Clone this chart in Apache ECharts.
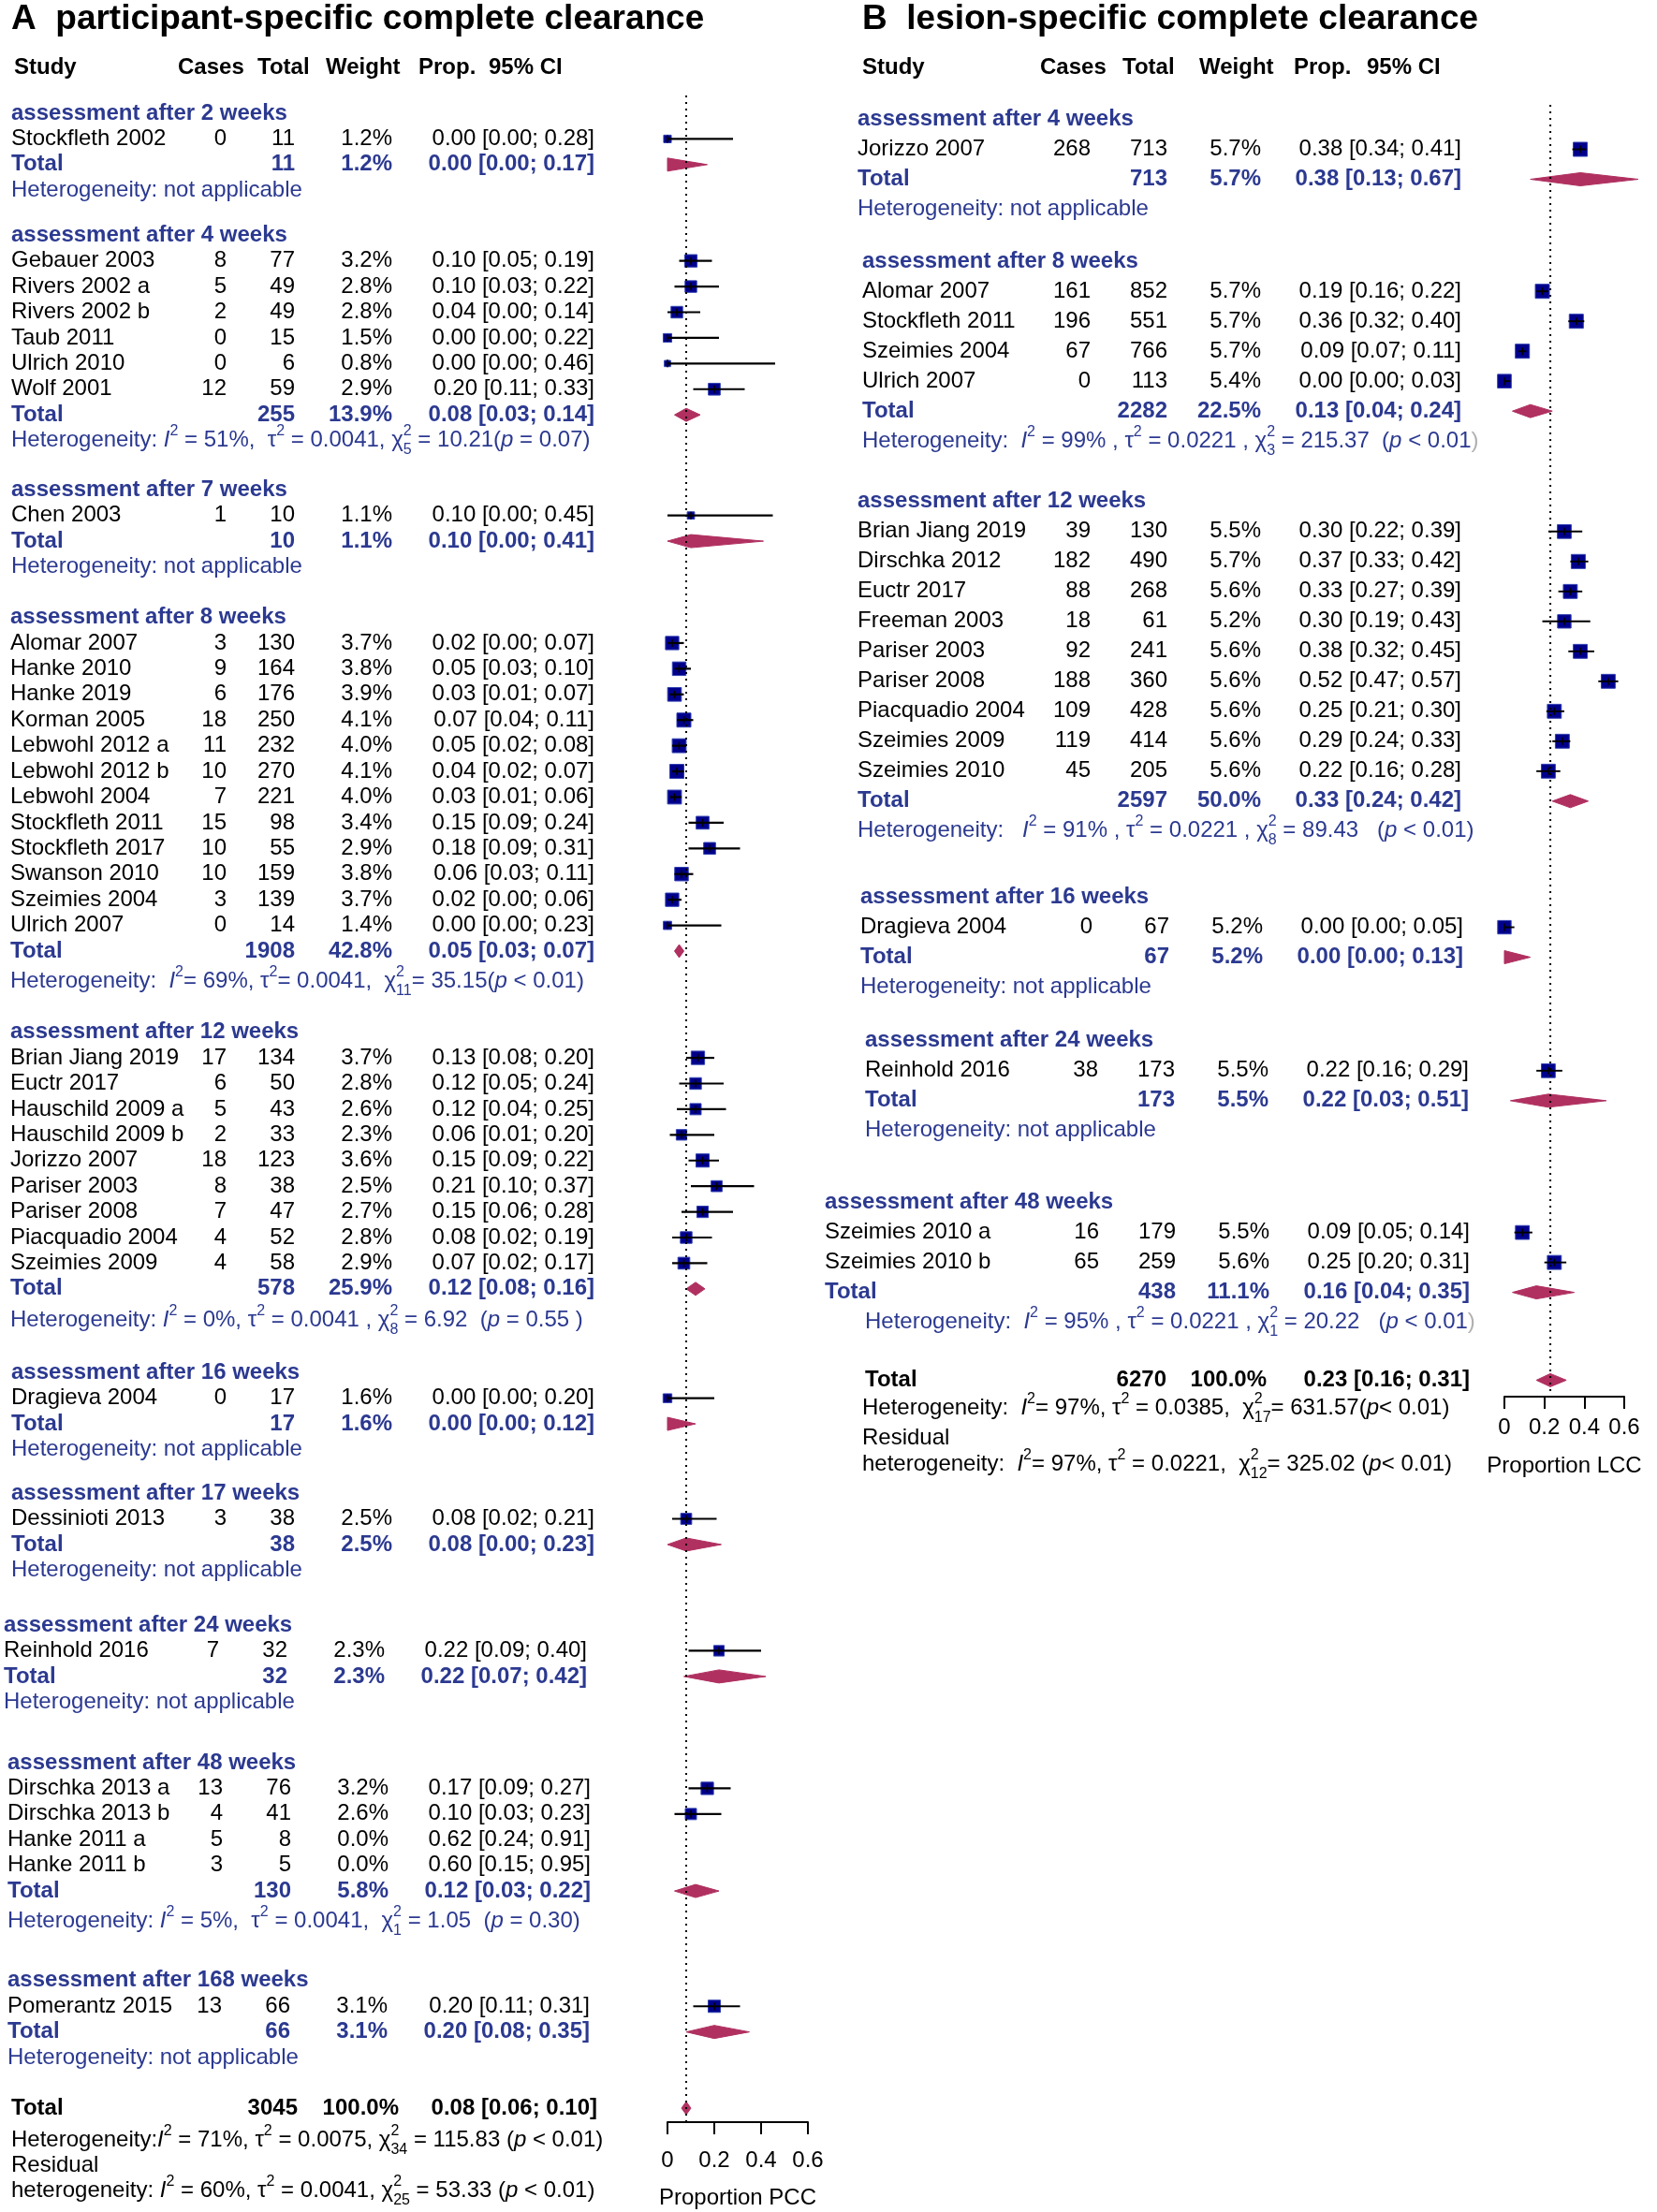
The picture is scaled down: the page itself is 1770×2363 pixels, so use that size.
<!DOCTYPE html>
<html><head><meta charset="utf-8">
<script src="https://cdn.jsdelivr.net/npm/echarts@6/dist/echarts.min.js"></script>
<style>html,body{margin:0;padding:0;background:#fff}#c{width:1770px;height:2363px}</style>
</head><body><div id="c"></div>
<script>
// ================= DATA =================
const headerLabels = ['Study', 'Cases', 'Total', 'Weight', 'Prop.', '95% CI'];
const titleA = 'A  participant-specific complete clearance';
const titleB = 'B  lesion-specific complete clearance';
const axisNameA = 'Proportion PCC';
const axisNameB = 'Proportion LCC';
const xTicks = [0, 0.2, 0.4, 0.6];

// ---- Panel A ----
const A_groupLabels = ['assessment after 2 weeks','assessment after 4 weeks','assessment after 7 weeks','assessment after 8 weeks','assessment after 12 weeks','assessment after 16 weeks','assessment after 17 weeks','assessment after 24 weeks','assessment after 48 weeks','assessment after 168 weeks'];
const A_study = ['Stockfleth 2002','Gebauer 2003','Rivers 2002 a','Rivers 2002 b','Taub 2011','Ulrich 2010','Wolf 2001','Chen 2003','Alomar 2007','Hanke 2010','Hanke 2019','Korman 2005','Lebwohl 2012 a','Lebwohl 2012 b','Lebwohl 2004','Stockfleth 2011','Stockfleth 2017','Swanson 2010','Szeimies 2004','Ulrich 2007','Brian Jiang 2019','Euctr 2017','Hauschild 2009 a','Hauschild 2009 b','Jorizzo 2007','Pariser 2003','Pariser 2008','Piacquadio 2004','Szeimies 2009','Dragieva 2004','Dessinioti 2013','Reinhold 2016','Dirschka 2013 a','Dirschka 2013 b','Hanke 2011 a','Hanke 2011 b','Pomerantz 2015'];
const A_groupOf = [0, 1,1,1,1,1,1, 2, 3,3,3,3,3,3,3,3,3,3,3,3, 4,4,4,4,4,4,4,4,4, 5, 6, 7, 8,8,8,8, 9];
const A_cases = [0, 8,5,2,0,0,12, 1, 3,9,6,18,11,10,7,15,10,10,3,0, 17,6,5,2,18,8,7,4,4, 0, 3, 7, 13,4,5,3, 13];
const A_total = [11, 77,49,49,15,6,59, 10, 130,164,176,250,232,270,221,98,55,159,139,14, 134,50,43,33,123,38,47,52,58, 17, 38, 32, 76,41,8,5, 66];
const A_weight = [1.2, 3.2,2.8,2.8,1.5,0.8,2.9, 1.1, 3.7,3.8,3.9,4.1,4.0,4.1,4.0,3.4,2.9,3.8,3.7,1.4, 3.7,2.8,2.6,2.3,3.6,2.5,2.7,2.8,2.9, 1.6, 2.5, 2.3, 3.2,2.6,0.0,0.0, 3.1];
const A_prop = [0.00, 0.10,0.10,0.04,0.00,0.00,0.20, 0.10, 0.02,0.05,0.03,0.07,0.05,0.04,0.03,0.15,0.18,0.06,0.02,0.00, 0.13,0.12,0.12,0.06,0.15,0.21,0.15,0.08,0.07, 0.00, 0.08, 0.22, 0.17,0.10,0.62,0.60, 0.20];
const A_lower = [0.00, 0.05,0.03,0.00,0.00,0.00,0.11, 0.00, 0.00,0.03,0.01,0.04,0.02,0.02,0.01,0.09,0.09,0.03,0.00,0.00, 0.08,0.05,0.04,0.01,0.09,0.10,0.06,0.02,0.02, 0.00, 0.02, 0.09, 0.09,0.03,0.24,0.15, 0.11];
const A_upper = [0.28, 0.19,0.22,0.14,0.22,0.46,0.33, 0.45, 0.07,0.10,0.07,0.11,0.08,0.07,0.06,0.24,0.31,0.11,0.06,0.23, 0.20,0.24,0.25,0.20,0.22,0.37,0.28,0.19,0.17, 0.20, 0.21, 0.40, 0.27,0.23,0.91,0.95, 0.31];
const A_groupTotal = [11,255,10,1908,578,17,38,32,130,66];
const A_groupWeight = [1.2,13.9,1.1,42.8,25.9,1.6,2.5,2.3,5.8,3.1];
const A_groupProp = [0.00,0.08,0.10,0.05,0.12,0.00,0.08,0.22,0.12,0.20];
const A_groupLower = [0.00,0.03,0.00,0.03,0.08,0.00,0.00,0.07,0.03,0.08];
const A_groupUpper = [0.17,0.14,0.41,0.07,0.16,0.12,0.23,0.42,0.22,0.35];
const A_groupHet = [
  'Heterogeneity: not applicable',
  'Heterogeneity: {i|I}{sup|2} = 51%,  τ{sup|2} = 0.0041, χ{z|2}{sub|5} = 10.21({i|p} = 0.07)',
  'Heterogeneity: not applicable',
  'Heterogeneity:  {i|I}{sup|2}= 69%, τ{sup|2}= 0.0041,  χ{z|2}{sub|11}= 35.15({i|p} < 0.01)',
  'Heterogeneity: {i|I}{sup|2} = 0%, τ{sup|2} = 0.0041 , χ{z|2}{sub|8} = 6.92  ({i|p} = 0.55 )',
  'Heterogeneity: not applicable',
  'Heterogeneity: not applicable',
  'Heterogeneity: not applicable',
  'Heterogeneity: {i|I}{sup|2} = 5%,  τ{sup|2} = 0.0041,  χ{z|2}{sub|1} = 1.05  ({i|p} = 0.30)',
  'Heterogeneity: not applicable'
];
const A_overall = [3045, 100.0, 0.08, 0.06, 0.10]; // total, weight, prop, lower, upper
const A_overallHet = [
  'Heterogeneity:{i|I}{sup|2} = 71%, τ{sup|2} = 0.0075, χ{z|2}{sub|34} = 115.83 ({i|p} < 0.01)',
  'Residual',
  'heterogeneity: {i|I}{sup|2} = 60%, τ{sup|2} = 0.0041, χ{z|2}{sub|25} = 53.33 ({i|p} < 0.01)'
];

// ---- Panel B ----
const B_groupLabels = ['assessment after 4 weeks','assessment after 8 weeks','assessment after 12 weeks','assessment after 16 weeks','assessment after 24 weeks','assessment after 48 weeks'];
const B_study = ['Jorizzo 2007','Alomar 2007','Stockfleth 2011','Szeimies 2004','Ulrich 2007','Brian Jiang 2019','Dirschka 2012','Euctr 2017','Freeman 2003','Pariser 2003','Pariser 2008','Piacquadio 2004','Szeimies 2009','Szeimies 2010','Dragieva 2004','Reinhold 2016','Szeimies 2010 a','Szeimies 2010 b'];
const B_groupOf = [0, 1,1,1,1, 2,2,2,2,2,2,2,2,2, 3, 4, 5,5];
const B_cases = [268, 161,196,67,0, 39,182,88,18,92,188,109,119,45, 0, 38, 16,65];
const B_total = [713, 852,551,766,113, 130,490,268,61,241,360,428,414,205, 67, 173, 179,259];
const B_weight = [5.7, 5.7,5.7,5.7,5.4, 5.5,5.7,5.6,5.2,5.6,5.6,5.6,5.6,5.6, 5.2, 5.5, 5.5,5.6];
const B_prop = [0.38, 0.19,0.36,0.09,0.00, 0.30,0.37,0.33,0.30,0.38,0.52,0.25,0.29,0.22, 0.00, 0.22, 0.09,0.25];
const B_lower = [0.34, 0.16,0.32,0.07,0.00, 0.22,0.33,0.27,0.19,0.32,0.47,0.21,0.24,0.16, 0.00, 0.16, 0.05,0.20];
const B_upper = [0.41, 0.22,0.40,0.11,0.03, 0.39,0.42,0.39,0.43,0.45,0.57,0.30,0.33,0.28, 0.05, 0.29, 0.14,0.31];
const B_groupTotal = [713, 2282, 2597, 67, 173, 438];
const B_groupWeight = [5.7, 22.5, 50.0, 5.2, 5.5, 11.1];
const B_groupProp = [0.38, 0.13, 0.33, 0.00, 0.22, 0.16];
const B_groupLower = [0.13, 0.04, 0.24, 0.00, 0.03, 0.04];
const B_groupUpper = [0.67, 0.24, 0.42, 0.13, 0.51, 0.35];
const B_groupHet = [
  'Heterogeneity: not applicable',
  'Heterogeneity:  {i|I}{sup|2} = 99% , τ{sup|2} = 0.0221 , χ{z|2}{sub|3} = 215.37  ({i|p} < 0.01{g|)}',
  'Heterogeneity:   {i|I}{sup|2} = 91% , τ{sup|2} = 0.0221 , χ{z|2}{sub|8} = 89.43   ({i|p} < 0.01)',
  'Heterogeneity: not applicable',
  'Heterogeneity: not applicable',
  'Heterogeneity:  {i|I}{sup|2} = 95% , τ{sup|2} = 0.0221 , χ{z|2}{sub|1} = 20.22   ({i|p} < 0.01{g|)}'
];
const B_overall = [6270, 100.0, 0.23, 0.16, 0.31];
const B_overallHet = [
  'Heterogeneity:  {i|I}{sup|2}= 97%, τ{sup|2} = 0.0385,  χ{z|2}{sub|17}= 631.57({i|p}< 0.01)',
  'Residual',
  'heterogeneity:  {i|I}{sup|2}= 97%, τ{sup|2} = 0.0221,  χ{z|2}{sub|12}= 325.02 ({i|p}< 0.01)'
];

// ================= LAYOUT / STYLE =================
const FONT = '"Liberation Sans", Arial, Helvetica, sans-serif';
const BLUE = '#2b3990';
const SQ_FILL = '#00008b', SQ_STROKE = '#2f3fb0', DIAMOND = '#b03060';
const LA = {y0: 121, h: 27.42, gridTop: 102, axisY: 2267, left: 713, width: 150,
  gapAfter: [1.75, 1.92, 1.97, 1.97, 2.03, 1.70, 2.14, 2.36, 2.30, 1.97],
  hetExtra: [0, 0, 0, 0.19, 0.23, 0, 0, 0, 0.19, 0],
  overallHetOffsets: [1.26, 2.25, 3.23],
  nameX: 12, casesR: 242, totalR: 315, weightR: 419, propR: 635,
  labelShift: [0,0,0,-1,-1,0,0,-8,-4,-4], hetShift: [0,0,0,-1,-1,0,0,-8,-4,-4], valueShift: [0,0,0,0,0,0,0,-8,-4,-5],
  overallX: 12, overallHetX: 12, overallCols: [318, 426, 638],
  maxSide: 15, wmax: 4.1, hh: 7, ciW: 2.2,
  margin: 29, nameGap: 69, headX: [15,190,275,348,447,522], titleX: 12};
const LB = {y0: 127.5, h: 32.0, gridTop: 112, axisY: 1492, left: 1607, width: 128,
  gapAfter: [1.74, 2.02, 2.21, 1.79, 2.40, 1.93],
  hetExtra: [0, 0, 0, 0, 0, 0],
  overallHetOffsets: [0.94, 1.93, 2.82],
  nameX: 916, casesR: 1165, totalR: 1247, weightR: 1347, propR: 1561,
  labelShift: [0,5,0,3,8,-35], hetShift: [0,5,0,3,8,8], valueShift: [0,0,0,2,8,9],
  overallX: 924, overallHetX: 921, overallCols: [1246, 1353, 1570],
  maxSide: 15, wmax: 5.7, hh: 7, ciW: 1.9,
  margin: 21, nameGap: 62, headX: [921,1111,1199,1281,1382,1460], titleX: 921};

function panel(p, L) {
  const rows = []; let pos = 0;
  p.groupLabels.forEach((lab, g) => {
    rows.push({r: pos, kind: 'header', g}); pos += 1;
    p.study.forEach((s, i) => { if (p.groupOf[i] === g) { rows.push({r: pos, kind: 'study', g, i}); pos += 1; } });
    rows.push({r: pos, kind: 'total', g}); pos += 1 + L.hetExtra[g];
    rows.push({r: pos, kind: 'het', g}); pos += L.gapAfter[g];
  });
  const tot = pos;
  rows.push({r: tot, kind: 'overall'});
  p.overallHet.forEach((t, k) => rows.push({r: tot + L.overallHetOffsets[k], kind: 'ohet', text: t}));
  p.rows = rows;
  return p;
}
const PA = panel({groupLabels: A_groupLabels, study: A_study, groupOf: A_groupOf, cases: A_cases, total: A_total, weight: A_weight, prop: A_prop, lower: A_lower, upper: A_upper, gTotal: A_groupTotal, gWeight: A_groupWeight, gProp: A_groupProp, gLower: A_groupLower, gUpper: A_groupUpper, gHet: A_groupHet, overall: A_overall, overallHet: A_overallHet}, LA);
const PB = panel({groupLabels: B_groupLabels, study: B_study, groupOf: B_groupOf, cases: B_cases, total: B_total, weight: B_weight, prop: B_prop, lower: B_lower, upper: B_upper, gTotal: B_groupTotal, gWeight: B_groupWeight, gProp: B_groupProp, gLower: B_groupLower, gUpper: B_groupUpper, gHet: B_groupHet, overall: B_overall, overallHet: B_overallHet}, LB);

const fmtP = (p, l, u) => p.toFixed(2) + ' [' + l.toFixed(2) + '; ' + u.toFixed(2) + ']';
const fmtW = w => w.toFixed(1) + '%';

function richFor(color) {
  const b = {fontFamily: FONT, fill: color};
  return {
    i: Object.assign({}, b, {fontSize: 24, fontStyle: 'italic', lineHeight: 36}),
    sup: Object.assign({}, b, {fontSize: 16, lineHeight: 16, verticalAlign: 'top'}),
    z: Object.assign({}, b, {fontSize: 16, lineHeight: 16, verticalAlign: 'top', width: 0}),
    sub: Object.assign({}, b, {fontSize: 16, lineHeight: 16, verticalAlign: 'bottom'}),
    g: Object.assign({}, b, {fontSize: 24, lineHeight: 36, fill: '#b0b0b0'})
  };
}
function T(x, y, text, o) {
  o = o || {};
  const al = o.align || 'left';
  const st = {text: String(text), fontFamily: FONT, fontSize: o.size || 24, fontWeight: o.bold ? 'bold' : 'normal',
    fill: o.color || '#000', align: al, textAlign: al, verticalAlign: 'middle', textVerticalAlign: 'middle'};
  if (o.rich) { st.rich = o.rich; st.lineHeight = 36; }
  return {type: 'text', x: x, y: y, silent: true, style: st};
}

function textRender(P, L) {
  return function (params, api) {
    const row = P.rows[api.value(2)];
    const y = api.coord([0, api.value(1)])[1];
    const ch = [];
    if (row.kind === 'header') {
      ch.push(T(L.nameX + L.labelShift[row.g], y, P.groupLabels[row.g], {bold: true, color: BLUE}));
    } else if (row.kind === 'study') {
      const i = row.i, dx = L.valueShift[row.g];
      ch.push(T(L.nameX + L.labelShift[row.g], y, P.study[i]));
      ch.push(T(L.casesR + dx, y, P.cases[i], {align: 'right'}));
      ch.push(T(L.totalR + dx, y, P.total[i], {align: 'right'}));
      ch.push(T(L.weightR + dx, y, fmtW(P.weight[i]), {align: 'right'}));
      ch.push(T(L.propR + dx, y, fmtP(P.prop[i], P.lower[i], P.upper[i]), {align: 'right'}));
    } else if (row.kind === 'total') {
      const g = row.g, dx = L.valueShift[g], o = {bold: true, color: BLUE, align: 'right'};
      ch.push(T(L.nameX + L.labelShift[g], y, 'Total', {bold: true, color: BLUE}));
      ch.push(T(L.totalR + dx, y, P.gTotal[g], o));
      ch.push(T(L.weightR + dx, y, fmtW(P.gWeight[g]), o));
      ch.push(T(L.propR + dx, y, fmtP(P.gProp[g], P.gLower[g], P.gUpper[g]), o));
    } else if (row.kind === 'het') {
      ch.push(T(L.nameX + L.hetShift[row.g], y, P.gHet[row.g], {color: BLUE, rich: richFor(BLUE)}));
    } else if (row.kind === 'overall') {
      const v = P.overall, o = {bold: true, align: 'right'}, c = L.overallCols;
      ch.push(T(L.overallX, y, 'Total', {bold: true}));
      ch.push(T(c[0], y, v[0], o));
      ch.push(T(c[1], y, fmtW(v[1]), o));
      ch.push(T(c[2], y, fmtP(v[2], v[3], v[4]), o));
    } else if (row.kind === 'ohet') {
      ch.push(T(L.overallHetX, y, row.text, {rich: richFor('#000')}));
    }
    return {type: 'group', children: ch};
  };
}

function markData(P) {
  const d = [];
  P.rows.forEach(row => {
    if (row.kind === 'study') {
      const i = row.i;
      if (P.weight[i] > 0) d.push([P.prop[i], P.lower[i], P.upper[i], row.r, P.weight[i], 0]);
    } else if (row.kind === 'total') {
      const g = row.g;
      d.push([P.gProp[g], P.gLower[g], P.gUpper[g], row.r, P.gWeight[g], 1]);
    } else if (row.kind === 'overall') {
      d.push([P.overall[2], P.overall[3], P.overall[4], row.r, P.overall[1], 1]);
    }
  });
  return d;
}
function markRender(L) {
  return function (params, api) {
    const est = api.value(0), lo = api.value(1), hi = api.value(2), r = api.value(3), w = api.value(4), kind = api.value(5);
    const pE = api.coord([est, r]), pL = api.coord([lo, r]), pH = api.coord([hi, r]);
    const y = pE[1];
    if (kind === 1) {
      return {type: 'polygon', shape: {points: [[pL[0], y], [pE[0], y - L.hh], [pH[0], y], [pE[0], y + L.hh]]},
        style: {fill: DIAMOND, stroke: DIAMOND, lineWidth: 1}};
    }
    const s = L.maxSide * Math.sqrt(w / L.wmax);
    return {type: 'group', children: [
      {type: 'rect', shape: {x: pE[0] - s / 2, y: y - s / 2, width: s, height: s}, style: {fill: SQ_FILL, stroke: SQ_STROKE, lineWidth: 1}},
      {type: 'line', shape: {x1: pL[0], y1: y, x2: pH[0], y2: y}, style: {stroke: '#000', lineWidth: L.ciW}},
      {type: 'line', shape: {x1: pE[0], y1: y - 4, x2: pE[0], y2: y + 4}, style: {stroke: '#000', lineWidth: 1.5}}
    ]};
  };
}
function yRange(L) { return [(L.gridTop - L.y0) / L.h, (L.axisY - L.y0) / L.h]; }
const yrA = yRange(LA), yrB = yRange(LB);

function dotRender(yr) {
  return function (params, api) {
    const x = api.coord([api.value(0), yr[0]])[0];
    const y1 = api.coord([api.value(0), yr[0]])[1], y2 = api.coord([api.value(0), yr[1]])[1];
    return {type: 'line', shape: {x1: x, y1: y1, x2: x, y2: y2}, style: {stroke: '#000', lineWidth: 2, lineDash: [2, 5]}};
  };
}

function xAxisFor(gi, L, name) {
  return {gridIndex: gi, type: 'value', min: xTicks[0], max: xTicks[xTicks.length - 1], interval: xTicks[1] - xTicks[0],
    axisLine: {show: true, onZero: false, lineStyle: {color: '#000', width: 2}},
    axisTick: {show: true, inside: false, length: 13, lineStyle: {color: '#000', width: 2}},
    axisLabel: {show: true, fontSize: 24, color: '#000', fontFamily: FONT, margin: L.margin,
      formatter: v => (Math.abs(v) < 1e-9 ? '0' : v.toFixed(1))},
    splitLine: {show: false},
    name: name, nameLocation: 'middle', nameGap: L.nameGap, nameMoveOverlap: false,
    nameTextStyle: {fontSize: 24, color: '#000', fontFamily: FONT}};
}
function gridFor(L) {
  return {left: L.left, width: L.width, top: L.gridTop, height: L.axisY - L.gridTop, containLabel: false, outerBoundsMode: 'none'};
}

const graphics = [];
function addHead(L, title) {
  graphics.push({type: 'text', x: L.titleX, y: 21, silent: true,
    style: {text: title, fill: '#000', font: 'bold 37px ' + FONT, textAlign: 'left', textVerticalAlign: 'middle'}});
  headerLabels.forEach((h, k) => graphics.push({type: 'text', x: L.headX[k], y: 72, silent: true,
    style: {text: h, fill: '#000', font: 'bold 24px ' + FONT, textAlign: 'left', textVerticalAlign: 'middle'}}));
}
addHead(LA, titleA); addHead(LB, titleB);

const chart = echarts.init(document.getElementById('c'), null, {renderer: 'canvas'});
chart.setOption({
  backgroundColor: '#ffffff',
  animation: false,
  grid: [gridFor(LA), gridFor(LB)],
  xAxis: [xAxisFor(0, LA, axisNameA), xAxisFor(1, LB, axisNameB)],
  yAxis: [
    {gridIndex: 0, type: 'value', min: yrA[0], max: yrA[1], inverse: true, show: false},
    {gridIndex: 1, type: 'value', min: yrB[0], max: yrB[1], inverse: true, show: false}
  ],
  graphic: graphics,
  series: [
    {type: 'custom', xAxisIndex: 0, yAxisIndex: 0, data: PA.rows.map((row, i) => [0, row.r, i]), encode: {x: 0, y: 1}, renderItem: textRender(PA, LA), silent: true, z: 3},
    {type: 'custom', xAxisIndex: 0, yAxisIndex: 0, data: markData(PA), encode: {x: [0, 1, 2], y: 3}, renderItem: markRender(LA), silent: true, z: 4},
    {type: 'custom', xAxisIndex: 0, yAxisIndex: 0, data: [[PA.overall[2], 0]], encode: {x: 0, y: 1}, renderItem: dotRender(yrA), silent: true, z: 5},
    {type: 'custom', xAxisIndex: 1, yAxisIndex: 1, data: PB.rows.map((row, i) => [0, row.r, i]), encode: {x: 0, y: 1}, renderItem: textRender(PB, LB), silent: true, z: 3},
    {type: 'custom', xAxisIndex: 1, yAxisIndex: 1, data: markData(PB), encode: {x: [0, 1, 2], y: 3}, renderItem: markRender(LB), silent: true, z: 4},
    {type: 'custom', xAxisIndex: 1, yAxisIndex: 1, data: [[PB.overall[2], 0]], encode: {x: 0, y: 1}, renderItem: dotRender(yrB), silent: true, z: 5}
  ]
});
</script>
</body></html>
